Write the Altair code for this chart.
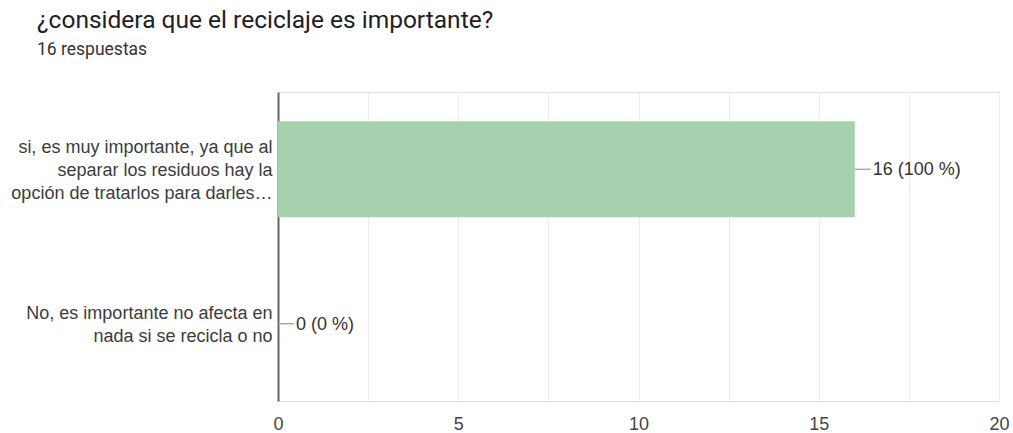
import altair as alt
import pandas as pd

categories = [
    "si, es muy importante, ya que al\nseparar los residuos hay la\nopción de tratarlos para darles…",
    "No, es importante no afecta en\nnada si se recicla o no",
]
counts = [16, 0]
percents = ["100 %", "0 %"]

df = pd.DataFrame({
    "cat": categories,
    "count": counts,
    "label": [f"{c} ({p})" for c, p in zip(counts, percents)],
})

TFONT = "Roboto"
FONT = "Liberation Sans"
FS = 18
LH = 23
y_enc = alt.Y(
    "cat:N",
    sort=categories,
    title=None,
    scale=alt.Scale(paddingInner=0.38, paddingOuter=0.19),
    axis=alt.Axis(
        labelExpr="split(datum.label, '\\n')",
        labelLineHeight=LH,
        labelFontSize=FS,
        labelFont=FONT,
        labelColor="#3c3c3c",
        labelLimit=400,
        labelPadding=6,
        labelOffset={
            "condition": {"test": "indexof(datum.value, 'si,') == 0", "value": -LH + 1.5},
            "value": -LH / 2 + 1.5,
        },
        ticks=False,
        domainColor="#666666",
        domainWidth=2,
        grid=False,
    ),
)
x_enc = alt.X(
    "count:Q",
    title=None,
    scale=alt.Scale(domain=[0, 20], nice=False),
    axis=alt.Axis(
        values=[0, 2.5, 5, 7.5, 10, 12.5, 15, 17.5, 20],
        labelExpr="datum.value % 5 == 0 ? datum.label : ''",
        labelFontSize=FS,
        labelFont=FONT,
        labelColor="#444444",
        labelPadding=14,
        labelFlush=False,
        ticks=False,
        domain=False,
        gridColor="#ebebeb",
        gridWidth=1,
    ),
)

bars = alt.Chart(df).mark_bar(color="#a6d1af").encode(x=x_enc, y=y_enc)
leader = alt.Chart(df).mark_rule(color="#999999", strokeWidth=1.2, x2Offset=16).encode(
    x="count:Q", x2="count:Q", y=alt.Y("cat:N", sort=categories)
)
text = alt.Chart(df).mark_text(
    align="left", baseline="middle", dx=18, dy=1, fontSize=FS, font=FONT, color="#333333"
).encode(x="count:Q", y=alt.Y("cat:N", sort=categories), text="label:N")

chart = (
    alt.layer(bars, leader, text)
    .properties(
        width=721,
        height=309,
        autosize=alt.AutoSizeParams(type="none"),
        padding={"left": 278, "top": 92, "right": 14, "bottom": 33},
        title=alt.TitleParams(
            text="¿considera que el reciclaje es importante?",
            subtitle="16 respuestas",
            anchor="start",
            frame="group",
            dx=-241,
            offset=33,
            font=TFONT,
            fontSize=24.5,
            fontWeight="normal",
            color="#202124",
            subtitleFont=TFONT,
            subtitleFontSize=17.5,
            subtitleColor="#333333",
            subtitlePadding=7,
        ),
    )
    .configure_view(stroke="#ebebeb", strokeWidth=1)
    .configure(background="white")
)

chart.save("out.html", embed_options={"renderer": "svg", "actions": False})
